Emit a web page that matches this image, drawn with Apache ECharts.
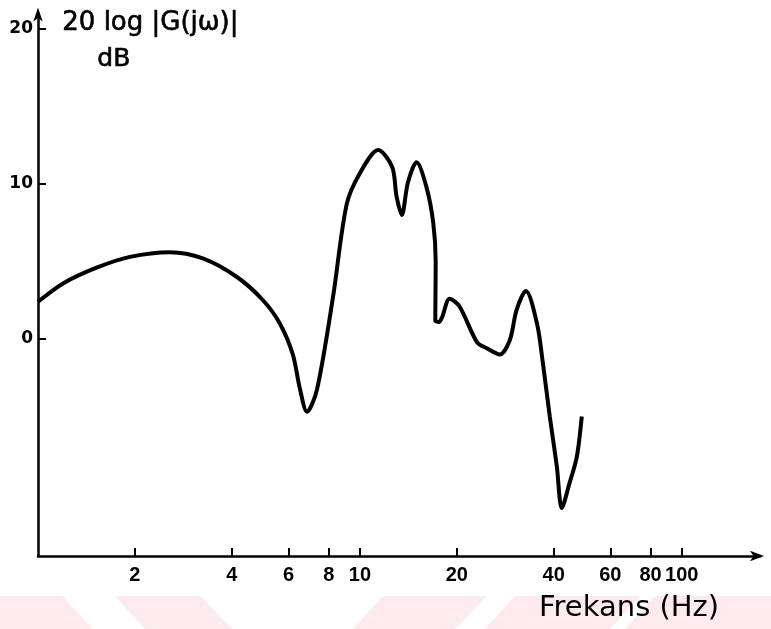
<!DOCTYPE html>
<html>
<head>
<meta charset="utf-8">
<script src="https://cdn.jsdelivr.net/npm/echarts@6/dist/echarts.min.js"></script>
<style>html,body{margin:0;padding:0;background:#fff}#c{width:771px;height:629px}</style>
</head>
<body>
<div id="c"></div>
<script>
// Frequency (Hz) and gain (dB)
const freqHz = [1.0, 1.2, 1.52, 1.93, 2.57, 3.25, 4.15, 5.0, 5.64, 6.19, 6.51, 6.85, 7.35, 8.25, 9.1, 10.0, 11.4, 12.6, 13.0, 13.5, 14.1, 15.0, 16.1, 16.9, 17.2, 17.15, 17.6, 18.0, 19.0, 20.4, 23.1, 24.8, 27.2, 29.2, 30.7, 32.8, 35.5, 37.0, 38.9, 40.9, 42.4, 44.8, 47.2, 48.9];
const gainDb = [2.4, 3.6, 4.6, 5.3, 5.6, 5.2, 4.0, 2.5, 1.0, -1.0, -3.2, -4.7, -3.3, 2.7, 8.7, 10.7, 12.2, 11.1, 9.2, 8.0, 10.1, 11.4, 9.8, 7.5, 5.0, 1.2, 1.1, 1.4, 2.6, 2.1, -0.2, -0.6, -1.0, -0.1, 1.9, 3.1, 1.0, -1.5, -5.0, -8.2, -10.9, -9.3, -7.6, -5.0];
const xTickValues = [2, 4, 6, 8, 10, 20, 40, 60, 80, 100];
const yTickValues = [0, 10, 20];
const yTitleLines = ['20 log |G(jω)|', 'dB'];
const xTitle = 'Frekans (Hz)';

const data = freqHz.map((f, i) => [f, gainDb[i]]);
const pink = '#fdeaee';
const chart = echarts.init(document.getElementById('c'), null, {renderer: 'canvas'});
chart.setOption({
  animation: false,
  backgroundColor: '#ffffff',
  grid: {left: 38, right: 11, top: 13.5, bottom: 73},
  xAxis: {
    type: 'log', logBase: 10, min: 1, max: 175,
    axisLine: {show: true, onZero: false, symbol: ['none', 'arrow'], symbolSize: [8, 14], symbolOffset: [0, 4], lineStyle: {color: '#000', width: 2.5}},
    axisTick: {show: true, inside: true, length: 8, customValues: xTickValues, lineStyle: {color: '#000', width: 2}},
    axisLabel: {show: true, customValues: xTickValues, margin: 9, color: '#000', fontFamily: 'Liberation Sans', fontWeight: 'bold', fontSize: 20, formatter: v => String(v)},
    splitLine: {show: false}, minorTick: {show: false}
  },
  yAxis: {
    type: 'value', min: -14, max: 21,
    axisLine: {show: true, onZero: false, symbol: ['none', 'arrow'], symbolSize: [7, 14], symbolOffset: [0, 6], lineStyle: {color: '#000', width: 2.5}},
    axisTick: {show: true, inside: true, length: 8, customValues: yTickValues, lineStyle: {color: '#000', width: 2}},
    axisLabel: {show: true, customValues: yTickValues, margin: 5, color: '#000', fontFamily: 'DejaVu Sans', fontWeight: 'bold', fontSize: 17},
    splitLine: {show: false}
  },
  series: [{
    type: 'line', data: data, smooth: 0.3, showSymbol: false,
    lineStyle: {color: '#000', width: 4}, z: 5
  }],
  graphic: [
    {type: 'polygon', z: 0, silent: true, shape: {points: [[0,596],[62,596],[93,629],[0,629]]}, style: {fill: pink}},
    {type: 'polygon', z: 0, silent: true, shape: {points: [[115,596],[200,596],[232,629],[145,629]]}, style: {fill: pink}},
    {type: 'polygon', z: 0, silent: true, shape: {points: [[383,596],[487,596],[455,629],[353,629]]}, style: {fill: pink}},
    {type: 'polygon', z: 0, silent: true, shape: {points: [[515,596],[640,596],[610,629],[485,629]]}, style: {fill: pink}},
    {type: 'polygon', z: 0, silent: true, shape: {points: [[655,596],[771,596],[771,629],[625,629]]}, style: {fill: pink}},
    {type: 'text', z: 10, left: 62, top: 10, style: {text: yTitleLines[0], fontFamily: 'DejaVu Sans', fontSize: 26, fill: '#000', stroke: '#000', lineWidth: 0.6}},
    {type: 'text', z: 10, left: 97, top: 47, style: {text: yTitleLines[1], fontFamily: 'DejaVu Sans', fontSize: 25, fill: '#000', stroke: '#000', lineWidth: 0.6}},
    {type: 'text', z: 10, left: 539, top: 594, style: {text: xTitle, fontFamily: 'DejaVu Sans', fontSize: 29, fill: '#000'}}
  ]
});
</script>
</body>
</html>
